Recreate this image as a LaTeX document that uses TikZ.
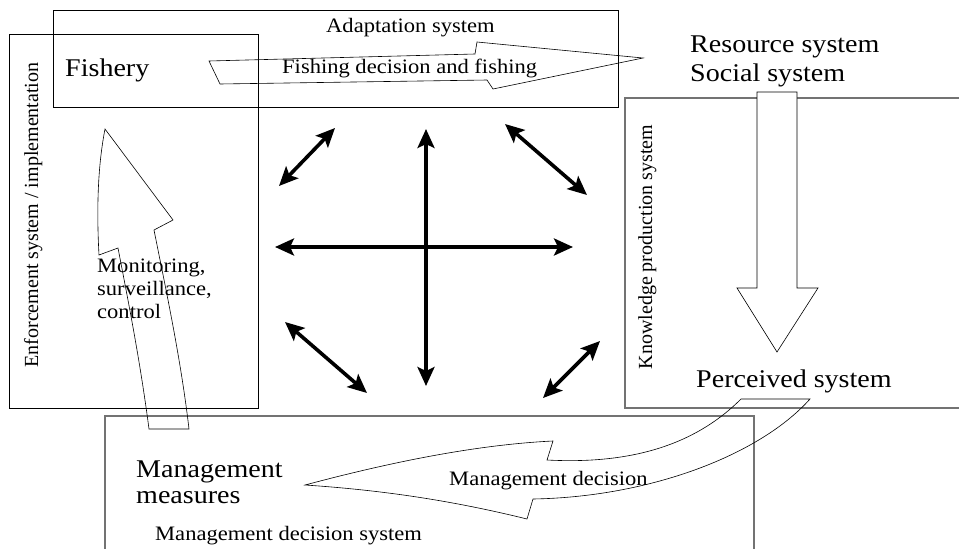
\documentclass[tikz,border=0pt]{standalone}
\usepackage{fontspec}
\setmainfont[FakeStretch=1.1]{Liberation Serif}
\newfontfamily\sidefont{Liberation Serif}
\usetikzlibrary{arrows.meta}

\begin{document}
\begin{tikzpicture}[
    x=1pt, y=-1pt,
    sysbox/.style={draw=black, line width=0.7pt},
    greybox/.style={draw=black!55, line width=1.1pt},
    blockarr/.style={draw=black, line width=0.6pt, line join=miter},
    link/.style={
        {Stealth[length=19pt,width=17pt,inset=4pt]}-{Stealth[length=19pt,width=17pt,inset=4pt]},
        line width=3.6pt
    },
    small/.style={font=\fontsize{20.5}{24}\selectfont, inner sep=0pt, anchor=base west},
    large/.style={font=\fontsize{25.5}{29}\selectfont, inner sep=0pt, anchor=base west},
    side/.style={font=\sidefont\fontsize{20}{23}\selectfont, inner sep=0pt, rotate=90, anchor=base},
]
\useasboundingbox (0,0) rectangle (959,549);

% Subsystem boxes
\draw[sysbox] (53,10) rectangle (618,107);
\draw[sysbox] (9,34) rectangle (258,408);
\draw[greybox] (625,98) rectangle (970,408);
\draw[greybox] (105,416) rectangle (754,560);

% Fishing decision arrow (outline only)
\draw[blockarr] (209,61) -- (475,54) -- (477,42) -- (643,58) -- (493,89)
    -- (487,80) -- (220,84) -- cycle;

% Knowledge production arrow
\draw[blockarr, fill=white] (757,92) -- (797,92) -- (797,288) -- (818,288)
    -- (777,352) -- (737,288) -- (757,288) -- cycle;

% Monitoring arrow
\draw[blockarr] (105,129) -- (173,220) -- (154,230)
    .. controls (166,290) and (181,360) .. (189,429) -- (149,429)
    .. controls (140,360) and (128,300) .. (118,248) -- (99,255)
    .. controls (96,200) and (99,160) .. (105,129) -- cycle;

% Management decision arrow
\draw[blockarr] (741,399) -- (810,399)
    .. controls (760,455) and (650,497) .. (533,499) -- (527,519)
    .. controls (450,500) and (380,490) .. (305,485)
    .. controls (380,465) and (470,445) .. (553,441) -- (547,460)
    .. controls (640,465) and (700,440) .. (741,399) -- cycle;

% Labels
\node[small] (adapt) at (326,32) {Adaptation system};
\node[large] (fishery) at (65,76) {Fishery};
\node[small] (fishing) at (282,73) {Fishing decision and fishing};
\node[large] (resource) at (690,52) {Resource system};
\node[large] (social) at (690,81) {Social system};
\node[large] (perceived) at (696,387) {Perceived system};
\node[small] (mon1) at (97,272) {Monitoring,};
\node[small] (mon2) at (97,295) {surveillance,};
\node[small] (mon3) at (97,318) {control};
\node[large] (meas1) at (136,477) {Management};
\node[large] (meas2) at (136,503) {measures};
\node[small] (mdec) at (449,485) {Management decision};
\node[small] (mdsys) at (155,540) {Management decision system};
\node[side] (enforce) at (38,215) {Enforcement system / implementation};
\node[side] (knowledge) at (652,247) {Knowledge production system};

% Interactions in the middle
\coordinate (n) at (426,129);
\coordinate (s) at (426,386);
\coordinate (w) at (275,247);
\coordinate (e) at (573,247);
\coordinate (nw1) at (279,186);
\coordinate (nw2) at (335,128);
\coordinate (ne1) at (505,124);
\coordinate (ne2) at (587,195);
\coordinate (sw1) at (285,322);
\coordinate (sw2) at (367,393);
\coordinate (se1) at (543,398);
\coordinate (se2) at (600,341);

\draw[link] (n) -- (s);
\draw[link] (w) -- (e);
\draw[link] (nw1) -- (nw2);
\draw[link] (ne1) -- (ne2);
\draw[link] (sw1) -- (sw2);
\draw[link] (se1) -- (se2);
\end{tikzpicture}
\end{document}
